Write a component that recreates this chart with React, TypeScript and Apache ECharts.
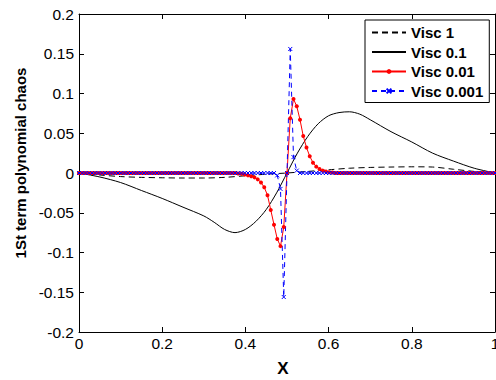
import React, { useEffect, useRef } from "react";
import * as echarts from "echarts";

// Legend names
const seriesNames = ["Visc 1", "Visc 0.1", "Visc 0.01", "Visc 0.001"];

// Visc 1 (dashed black)
const xVisc1 = [0, 0.05, 0.1, 0.15, 0.2, 0.25, 0.3, 0.35, 0.4, 0.45, 0.5, 0.55, 0.6, 0.65, 0.7, 0.75, 0.8, 0.85, 0.9, 0.95, 1];
const yVisc1 = [0, -0.0025, -0.0045, -0.0055, -0.006, -0.0063, -0.0063, -0.0055, -0.0035, -0.0015, 0, 0.002, 0.004, 0.006, 0.007, 0.0075, 0.0078, 0.0075, 0.0047, 0.002, 0];

// Visc 0.1 (solid black)
const xVisc01 = [0, 0.05, 0.1, 0.15, 0.2, 0.25, 0.3, 0.325, 0.35, 0.375, 0.4, 0.425, 0.45, 0.475, 0.5, 0.525, 0.55, 0.575, 0.6, 0.625, 0.65, 0.675, 0.7, 0.75, 0.8, 0.85, 0.9, 0.95, 1];
const yVisc01 = [0, -0.005, -0.012, -0.022, -0.032, -0.043, -0.054, -0.062, -0.071, -0.075, -0.071, -0.061, -0.046, -0.025, 0, 0.025, 0.046, 0.062, 0.072, 0.076, 0.077, 0.074, 0.067, 0.052, 0.039, 0.025, 0.015, 0.006, 0];

// Sampling grid for Visc 0.01 and Visc 0.001: 129 points on [0, 1]
const gridIntervals = 128;

// Visc 0.01 (red, dots)
const yVisc001 = [
  0, 0, 0, 0, 0, 0, 0, 0, 0, 0,
  0, 0, 0, 0, 0, 0, 0, 0, 0, 0,
  0, 0, 0, 0, 0, 0, 0, 0, 0, 0,
  0, 0, 0, 0, 0, 0, 0, 0, 0, 0,
  0, 0, 0, 0, 0, 0, 0, 0, 0, -0.0005,
  -0.001, -0.002, -0.003, -0.004, -0.0055, -0.008, -0.012, -0.018, -0.028, -0.0465,
  -0.065, -0.083, -0.092, -0.068, 0, 0.069, 0.093, 0.084, 0.067, 0.0465,
  0.032, 0.021, 0.013, 0.008, 0.005, 0.003, 0.002, 0.001, 0.0005, 0,
  0, 0, 0, 0, 0, 0, 0, 0, 0, 0,
  0, 0, 0, 0, 0, 0, 0, 0, 0, 0,
  0, 0, 0, 0, 0, 0, 0, 0, 0, 0,
  0, 0, 0, 0, 0, 0, 0, 0, 0, 0,
  0, 0, 0, 0, 0, 0, 0, 0, 0,
];

// Visc 0.001 (blue, dashed with x markers)
const yVisc0001 = [
  0, 0, 0, 0, 0, 0, 0, 0, 0, 0,
  0, 0, 0, 0, 0, 0, 0, 0, 0, 0,
  0, 0, 0, 0, 0, 0, 0, 0, 0, 0,
  0, 0, 0, 0, 0, 0, 0, 0, 0, 0,
  0, 0, 0, 0, 0, 0, 0, 0, 0, 0,
  0, 0, 0, 0, 0, 0, 0, 0, 0, 0,
  0, -0.003, -0.02, -0.156, 0, 0.156, 0.02, 0.003, 0, 0,
  0, 0, 0, 0, 0, 0, 0, 0, 0, 0,
  0, 0, 0, 0, 0, 0, 0, 0, 0, 0,
  0, 0, 0, 0, 0, 0, 0, 0, 0, 0,
  0, 0, 0, 0, 0, 0, 0, 0, 0, 0,
  0, 0, 0, 0, 0, 0, 0, 0, 0, 0,
  0, 0, 0, 0, 0, 0, 0, 0, 0,
];

const xTicks = { min: 0, max: 1, interval: 0.2 };
const yTicks = { min: -0.2, max: 0.2, interval: 0.05 };
const xTitle = "X";
const yTitle = "1St term polynomial chaos";

const FONT = "'Liberation Sans', Arial, sans-serif";

const pair = (xs: number[], ys: number[]) => xs.map((x, i) => [x, ys[i]]);
const gridPair = (ys: number[]) => ys.map((y, k) => [k / gridIntervals, y]);

const xMarker = "path://M0,0L10,10M10,0L0,10";
const noMarker = "path://M0,0L1,1";

export default function App() {
  const ref = useRef<HTMLDivElement>(null);
  useEffect(() => {
    if (!ref.current) return;
    const chart = echarts.init(ref.current, null, { renderer: "svg" });
    const axisCommon = {
      type: "value" as const,
      axisLine: { show: true, onZero: false, lineStyle: { color: "#000", width: 1 } },
      axisTick: { show: true, inside: true, length: 5, lineStyle: { color: "#000" } },
      splitLine: { show: false },
    };
    chart.setOption({
      animation: false,
      backgroundColor: "#fff",
      grid: { left: 79, right: 1, top: 14, bottom: 48, containLabel: false, outerBoundsMode: "none" },
      xAxis: [
        {
          ...axisCommon,
          ...xTicks,
          position: "bottom",
          axisLabel: { color: "#000", fontSize: 15.5, fontFamily: FONT, margin: 3 },
        },
        {
          ...axisCommon,
          ...xTicks,
          position: "top",
          axisLabel: { show: false },
        },
      ],
      yAxis: [
        {
          ...axisCommon,
          ...yTicks,
          position: "left",
          axisLabel: { color: "#000", fontSize: 15.5, fontFamily: FONT, margin: 5 },
        },
        {
          ...axisCommon,
          ...yTicks,
          position: "right",
          axisLabel: { show: false },
        },
      ],
      legend: {
        orient: "vertical",
        left: 365,
        top: 20,
        backgroundColor: "#fff",
        borderColor: "#000",
        borderWidth: 1,
        borderRadius: 0,
        padding: [5, 6, 4, 6],
        itemWidth: 34,
        itemHeight: 6,
        itemGap: 4.5,
        textStyle: { color: "#000", fontSize: 15, fontWeight: "bold", fontFamily: FONT },
        data: seriesNames,
      },
      graphic: [
        {
          type: "text",
          x: 20,
          y: 163,
          rotation: Math.PI / 2,
          style: {
            text: yTitle,
            fill: "#000",
            font: `bold 15px ${FONT}`,
            align: "center",
            verticalAlign: "middle",
          },
        },
        {
          type: "text",
          x: 283,
          y: 368,
          style: {
            text: xTitle,
            fill: "#000",
            font: `bold 17px ${FONT}`,
            align: "center",
            verticalAlign: "middle",
          },
        },
      ],
      series: [
        {
          name: seriesNames[0],
          type: "line",
          data: pair(xVisc1, yVisc1),
          smooth: 0.3,
          showSymbol: false,
          symbol: noMarker,
          lineStyle: { color: "#000", width: 1, type: [6, 4] },
          itemStyle: { color: "rgba(0,0,0,0)" },
        },
        {
          name: seriesNames[1],
          type: "line",
          data: pair(xVisc01, yVisc01),
          smooth: 0.3,
          showSymbol: false,
          symbol: noMarker,
          lineStyle: { color: "#000", width: 1 },
          itemStyle: { color: "rgba(0,0,0,0)" },
        },
        {
          name: seriesNames[2],
          type: "line",
          data: gridPair(yVisc001),
          symbol: "circle",
          symbolSize: 4,
          lineStyle: { color: "#ff0000", width: 1 },
          itemStyle: { color: "#ff0000", borderWidth: 0 },
        },
        {
          name: seriesNames[3],
          type: "line",
          data: gridPair(yVisc0001),
          symbol: xMarker,
          symbolSize: 4,
          lineStyle: { color: "#0000ff", width: 1, type: [5, 4] },
          itemStyle: { color: "#0000ff", borderColor: "#0000ff", borderWidth: 1 },
        },
      ],
    });
    return () => chart.dispose();
  }, []);
  return (
    <div
      ref={ref}
      style={{ position: "absolute", left: 0, top: 0, width: 496, height: 380, background: "#fff" }}
    />
  );
}
